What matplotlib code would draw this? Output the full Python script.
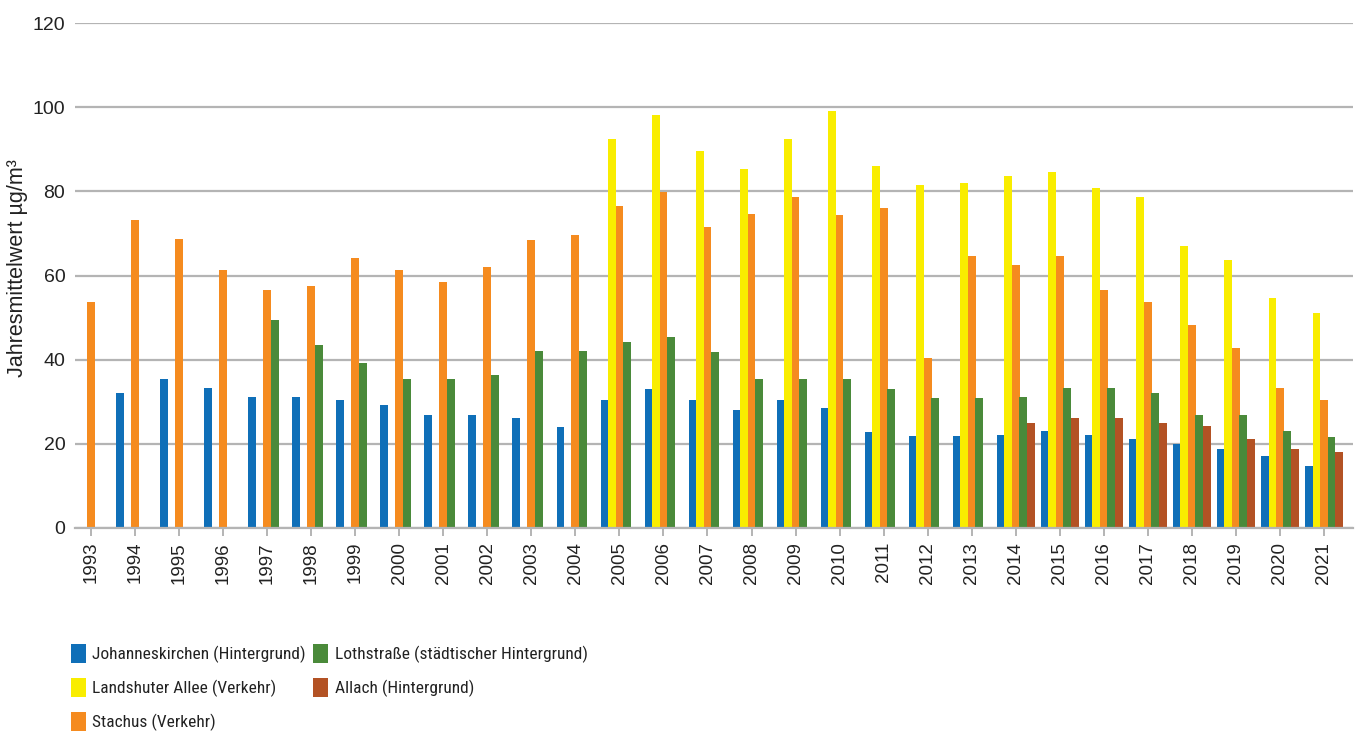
import matplotlib
matplotlib.use('Agg')
import matplotlib.pyplot as plt
from matplotlib import font_manager
import numpy as np

nan = np.nan
years = list(range(1993, 2022))

johanneskirchen = [nan, 32.1, 35.4, 33.3, 31.1, 31.1, 30.4, 29.2, 26.9, 26.9, 26.1, 24.0,
                   30.3, 33.1, 30.3, 28.1, 30.3, 28.4, 22.9, 21.9, 21.9, 22.1, 23.1, 22.1,
                   21.2, 20.0, 18.8, 17.1, 14.8]
landshuter = [nan] * 12 + [92.5, 98.2, 89.6, 85.3, 92.5, 99.1, 86.0, 81.5, 82.0, 83.7, 84.5,
                           80.9, 78.7, 66.9, 63.8, 54.7, 51.1]
stachus = [53.7, 73.2, 68.7, 61.3, 56.6, 57.5, 64.2, 61.3, 58.5, 62.0, 68.4, 69.6,
           76.5, 79.9, 71.5, 74.6, 78.6, 74.3, 76.0, 40.3, 64.6, 62.6, 64.7, 56.6,
           53.8, 48.3, 42.8, 33.3, 30.5]
lothstrasse = [nan] * 4 + [49.4, 43.5, 39.2, 35.4, 35.4, 36.4, 42.1, 42.1, 44.3, 45.3, 41.9,
                           35.3, 35.3, 35.3, 33.1, 31.0, 31.0, 31.2, 33.3, 33.3, 32.1, 26.9,
                           26.9, 23.1, 21.6]
allach = [nan] * 21 + [25.0, 26.2, 26.2, 25.0, 24.3, 21.2, 18.8, 18.1]

series = [
    ('Johanneskirchen (Hintergrund)', johanneskirchen, '#0f6fb8'),
    ('Landshuter Allee (Verkehr)', landshuter, '#f9ed00'),
    ('Stachus (Verkehr)', stachus, '#f58b1f'),
    ('Lothstraße (städtischer Hintergrund)', lothstrasse, '#4a8a3a'),
    ('Allach (Hintergrund)', allach, '#b35224'),
]

plt.rcParams['font.family'] = ['Liberation Sans', 'DejaVu Sans']

# legend text in the original is a condensed face; use one if there is any
installed = {f.name for f in font_manager.fontManager.ttflist}
narrow = [n for n in ('Liberation Sans Narrow', 'DejaVu Sans Condensed', 'Roboto Condensed')
          if n in installed]
if narrow:
    leg_prop = {'family': [narrow[0], 'Liberation Sans'], 'size': 12.5}
else:
    leg_prop = {'family': ['Liberation Sans'], 'size': 11}

fig = plt.figure(figsize=(13.6, 7.36), dpi=100)
ax = fig.add_axes([75 / 1360, 208 / 736, 1278 / 1360, 505 / 736])

x = np.arange(len(years))
slot = 0.17
for i, (label, vals, color) in enumerate(series):
    ax.bar(x + (i - 2) * slot, np.array(vals, dtype=float), slot * 1.04,
           color=color, label=label, linewidth=0, zorder=3)

ax.set_xlim(-0.364, len(years) - 1 + 0.66)
ax.set_ylim(0, 120)
ax.set_yticks(np.arange(0, 121, 20))
ax.set_xticks(x)
ax.set_xticklabels([str(y) for y in years], rotation=90)

ax.grid(axis='y', color='#b4b4b4', linewidth=1.6, zorder=0)
for s in ['top', 'right', 'left']:
    ax.spines[s].set_visible(False)
ax.spines['bottom'].set_color('#b4b4b4')
ax.spines['bottom'].set_linewidth(1.6)
ax.spines['bottom'].set_zorder(4)

ax.tick_params(axis='y', length=0, pad=7, labelsize=14, labelcolor='#222222')
ax.tick_params(axis='x', length=6, width=1.4, color='#b4b4b4', pad=4,
               labelsize=13.5, labelcolor='#222222')

ax.set_ylabel('Jahresmittelwert µg/m³', fontsize=15.5, color='#222222')
ax.yaxis.set_label_coords(-0.037, 0.515)

leg = fig.legend(loc='upper left', bbox_to_anchor=(55 / 1360, 1 - 628 / 736),
                 ncol=2, frameon=False, handlelength=0.86, handleheight=1.32,
                 handletextpad=0.4, labelspacing=0.86, columnspacing=0.4,
                 prop=leg_prop)
for t in leg.get_texts():
    t.set_color('#222222')

fig.savefig('out.png', dpi=100)
